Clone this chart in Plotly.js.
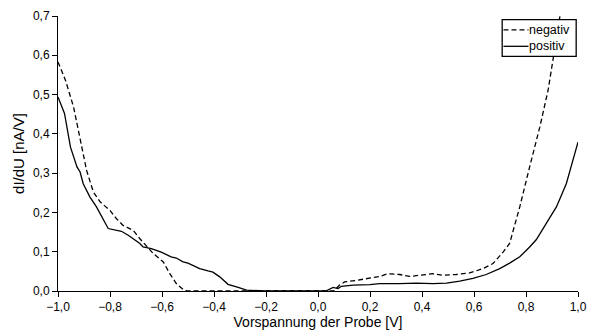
<!DOCTYPE html>
<html>
<head>
<meta charset="utf-8">
<script src="https://cdn.plot.ly/plotly-3.0.1.min.js"></script>
<style>html,body{margin:0;padding:0;background:#fff;}#chart{width:589px;height:331px;}</style>
</head>
<body>
<div id="chart"></div>
<script>
// Bias voltage [V] and dI/dU [nA/V]
const negX = [-1.0, -0.971, -0.94, -0.915, -0.89, -0.864, -0.838, -0.8, -0.775, -0.75, -0.71, -0.685, -0.66, -0.633, -0.595, -0.57, -0.545, -0.519, -0.5, -0.4, -0.2, 0.0, 0.06, 0.083, 0.102, 0.147, 0.199, 0.237, 0.269, 0.314, 0.353, 0.404, 0.442, 0.481, 0.532, 0.583, 0.635, 0.673, 0.712, 0.737, 0.776, 0.814, 0.853, 0.885, 0.904, 0.93, 0.95];
const negY = [0.583, 0.536, 0.468, 0.384, 0.307, 0.252, 0.227, 0.205, 0.184, 0.167, 0.154, 0.133, 0.116, 0.095, 0.074, 0.044, 0.019, 0.004, 0.0, 0.0, 0.0, 0.0, 0.0, 0.015, 0.023, 0.027, 0.032, 0.037, 0.044, 0.042, 0.037, 0.042, 0.044, 0.040, 0.042, 0.046, 0.057, 0.070, 0.099, 0.121, 0.214, 0.316, 0.417, 0.511, 0.591, 0.697, 0.78];
const posX = [-1.0, -0.975, -0.952, -0.927, -0.915, -0.903, -0.877, -0.852, -0.807, -0.756, -0.73, -0.685, -0.673, -0.641, -0.603, -0.565, -0.545, -0.519, -0.5, -0.455, -0.423, -0.404, -0.378, -0.346, -0.307, -0.275, -0.2, 0.0, 0.03, 0.058, 0.077, 0.09, 0.135, 0.2, 0.237, 0.314, 0.378, 0.442, 0.494, 0.545, 0.596, 0.647, 0.699, 0.737, 0.776, 0.814, 0.84, 0.878, 0.917, 0.955, 0.981, 1.0];
const posY = [0.494, 0.452, 0.366, 0.316, 0.303, 0.273, 0.239, 0.214, 0.159, 0.152, 0.142, 0.121, 0.112, 0.108, 0.099, 0.087, 0.084, 0.074, 0.071, 0.057, 0.051, 0.048, 0.036, 0.017, 0.009, 0.002, 0.0, 0.0, 0.0, 0.009, 0.006, 0.012, 0.015, 0.016, 0.019, 0.019, 0.020, 0.019, 0.020, 0.025, 0.032, 0.042, 0.057, 0.071, 0.087, 0.112, 0.131, 0.172, 0.214, 0.273, 0.333, 0.379];
const seriesNames = ["negativ", "positiv"];

const FAM = "Liberation Sans, Arial, sans-serif";
const DASH = "5px,3px";

const traces = [
  {x: negX, y: negY, name: seriesNames[0], mode: "lines", line: {color: "#000", width: 1.3, dash: DASH}},
  {x: posX, y: posY, name: seriesNames[1], mode: "lines", line: {color: "#000", width: 1.3}}
];

// Legend box (drawn in plot-area paper coordinates)
const lg = {x0: 0.8542, x1: 0.9965, y0: 0.8535, y1: 0.9869, sx0: 0.8567, sx1: 0.9048, rowY: [0.9498, 0.8898]};
const shapes = [
  {type: "rect", xref: "paper", yref: "paper", x0: lg.x0, x1: lg.x1, y0: lg.y0, y1: lg.y1,
   line: {color: "#000", width: 1.3}, fillcolor: "#fff", layer: "above"}
];
const annotations = [];
seriesNames.forEach((n, i) => {
  shapes.push({type: "line", xref: "paper", yref: "paper", x0: lg.sx0, x1: lg.sx1, y0: lg.rowY[i], y1: lg.rowY[i],
    line: {color: "#000", width: 1.3, dash: i === 0 ? DASH : "solid"}, layer: "above"});
  annotations.push({xref: "paper", yref: "paper", x: lg.sx1, y: lg.rowY[i], xanchor: "left", yanchor: "middle",
    text: n, showarrow: false, borderpad: 0, font: {family: FAM, size: 12.5, color: "#000"}});
});

const layout = {
  width: 589, height: 331,
  margin: {l: 57.5, r: 11, t: 15.7, b: 40.3},
  paper_bgcolor: "#fff", plot_bgcolor: "#fff",
  separators: ",.",
  font: {family: FAM, size: 12, color: "#000"},
  showlegend: false,
  shapes: shapes,
  annotations: annotations,
  xaxis: {
    range: [-1, 1], dtick: 0.2, tick0: -1, tickformat: ".1f",
    showline: true, linecolor: "#000", linewidth: 1,
    ticks: "outside", ticklen: 5, tickcolor: "#000",
    tickfont: {family: FAM, size: 12, color: "#000"},
    showgrid: false, zeroline: false,
    title: {text: "Vorspannung der Probe [V]", font: {family: FAM, size: 14, color: "#000"}, standoff: 2}
  },
  yaxis: {
    range: [0, 0.7], dtick: 0.1, tick0: 0, tickformat: ".1f",
    showline: true, linecolor: "#000", linewidth: 1,
    ticks: "outside", ticklen: 5, tickcolor: "#000",
    tickfont: {family: FAM, size: 12, color: "#000"},
    showgrid: false, zeroline: false,
    title: {text: "dI/dU [nA/V]", font: {family: FAM, size: 15, color: "#000"}, standoff: 4}
  }
};

Plotly.newPlot("chart", traces, layout, {displayModeBar: false, staticPlot: true});
</script>
</body>
</html>
